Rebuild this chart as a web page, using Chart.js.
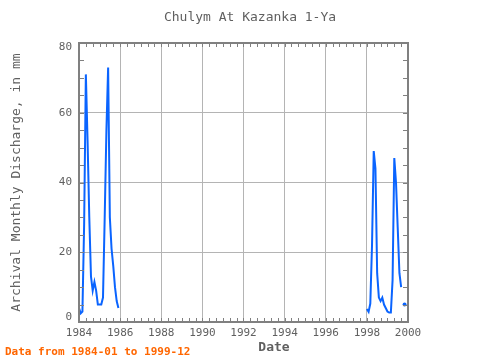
<!DOCTYPE html>
<html>
<head>
<meta charset="utf-8">
<script src="https://cdn.jsdelivr.net/npm/chart.js@4/dist/chart.umd.min.js"></script>
<style>
  html, body { margin: 0; padding: 0; background: #fff; }
  #wrap { width: 480px; height: 360px; }
</style>
</head>
<body>
<div id="wrap"><canvas id="myChart" width="480" height="360"></canvas></div>
<script>
// monthly discharge (mm), Jan..Dec
const years = [1984, 1985, 1998, 1999];
const q1984 = [4, 2.5, 3, 28, 71, 52, 30, 13, 9, 11.5, 9, 5];
const q1985 = [5, 5, 7, 30, 55, 73, 30, 21, 16, 10, 6, 4];
const q1998 = [3.7, 2.9, 5.3, 22, 49, 44, 14, 7, 6, 7, 5, 4];
const q1999 = [3, 2.7, 2.7, 12, 47, 40, 27, 14, 10, null, 5, null];
const xTicks = [1984, 1986, 1988, 1990, 1992, 1994, 1996, 1998, 2000];
const yTicks = [0, 20, 40, 60, 80];

const porAnio = [q1984, q1985, q1998, q1999];
const puntos = [];
years.forEach((anio, i) => {
  if (i > 0 && anio - years[i - 1] > 1) puntos.push({ x: anio - 0.5, y: null });
  porAnio[i].forEach((v, m) => puntos.push({ x: anio + m / 12, y: v }));
});

const GRIS = '#808080';
const TEXTO = '#606060';
const MONO = '"DejaVu Sans Mono", "Liberation Mono", monospace';

// marco, marcas y textos al estilo del grafico original
const marco = {
  id: 'marco',
  afterDraw(chart) {
    const { ctx, chartArea: a, scales } = chart;
    const sx = scales.x, sy = scales.y;
    ctx.save();
    ctx.strokeStyle = GRIS;
    ctx.lineWidth = 1;
    // marcas menores cada 4 meses
    for (let t = 1984; t <= 2000.001; t += 1 / 3) {
      const px = Math.round(sx.getPixelForValue(t)) + 0.5;
      ctx.beginPath();
      ctx.moveTo(px, a.top); ctx.lineTo(px, a.top + 4);
      ctx.moveTo(px, a.bottom); ctx.lineTo(px, a.bottom - 4);
      ctx.stroke();
    }
    for (let v = 0; v <= 80; v += 5) {
      const py = Math.round(sy.getPixelForValue(v)) + 0.5;
      ctx.beginPath();
      ctx.moveTo(a.left, py); ctx.lineTo(a.left + 5, py);
      ctx.moveTo(a.right, py); ctx.lineTo(a.right - 5, py);
      ctx.stroke();
    }
    ctx.lineWidth = 2;
    ctx.strokeRect(a.left, a.top, a.right - a.left, a.bottom - a.top);

    // etiquetas de los ejes
    ctx.fillStyle = TEXTO;
    ctx.font = '11px ' + MONO;
    ctx.textAlign = 'center';
    ctx.textBaseline = 'middle';
    xTicks.forEach(t => ctx.fillText(String(t), sx.getPixelForValue(t), 333));
    ctx.textAlign = 'right';
    yTicks.forEach(v => {
      let py = sy.getPixelForValue(v);
      py = Math.min(Math.max(py, a.top + 4), a.bottom - 5);
      ctx.fillText(String(v), 72, py);
    });

    // titulos
    ctx.textAlign = 'center';
    ctx.font = '13px ' + MONO;
    ctx.fillText('Chulym At Kazanka 1-Ya', 250, 18);
    ctx.font = 'bold 13px ' + MONO;
    ctx.fillText('Date', 274, 348);
    ctx.save();
    ctx.translate(17, (a.top + a.bottom) / 2);
    ctx.rotate(-Math.PI / 2);
    ctx.font = '13px ' + MONO;
    ctx.fillText('Archival Monthly Discharge, in mm', 0, 0);
    ctx.restore();
    ctx.textAlign = 'left';
    ctx.fillStyle = '#ff6600';
    ctx.font = 'bold 11px ' + MONO;
    ctx.fillText('Data from 1984-01 to 1999-12', 5, 352);
    ctx.restore();
  }
};

const ctx = document.getElementById('myChart').getContext('2d');
const chartInstance = new Chart(ctx, {
  type: 'line',
  data: {
    datasets: [{
      label: 'Discharge',
      data: puntos,
      borderColor: '#0a64ff',
      backgroundColor: '#0a64ff',
      borderWidth: 2,
      spanGaps: false,
      pointRadius: c => {
        const d = c.dataset.data, i = c.dataIndex;
        const solo = d[i].y !== null && (!d[i - 1] || d[i - 1].y === null) && (!d[i + 1] || d[i + 1].y === null);
        return solo ? 2 : 0;
      },
      pointBorderWidth: 0,
      tension: 0
    }]
  },
  options: {
    responsive: false,
    animation: false,
    layout: { padding: { top: 43, right: 72, left: 0, bottom: 0 } },
    plugins: { legend: { display: false }, tooltip: { enabled: false } },
    scales: {
      x: {
        type: 'linear', min: 1984, max: 2000,
        afterFit: s => { s.height = 38; },
        ticks: { display: false, stepSize: 2 },
        border: { display: false },
        grid: { color: '#b4b4b4', lineWidth: 1, drawTicks: false }
      },
      y: {
        min: 0, max: 80,
        afterFit: s => { s.width = 79; },
        ticks: { display: false, stepSize: 20 },
        border: { display: false },
        grid: { color: '#b4b4b4', lineWidth: 1, drawTicks: false }
      }
    }
  },
  plugins: [marco]
});
</script>
</body>
</html>
